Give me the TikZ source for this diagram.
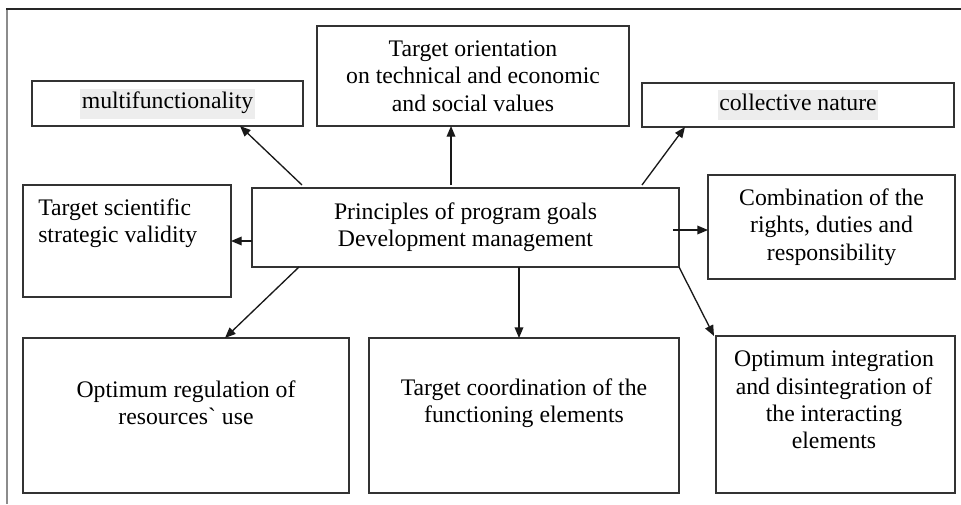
\documentclass[tikz,border=0pt]{standalone}
\usepackage{fontspec}
\setmainfont{Liberation Serif}
\usetikzlibrary{arrows.meta,calc}
\definecolor{hlgray}{gray}{0.93}
\newcommand\hlbox[1]{{\setlength\fboxsep{1pt}\colorbox{hlgray}{\strut #1}}}
\begin{document}
\begin{tikzpicture}[x=0.75pt,y=-0.75pt,
  box/.style 2 args={draw=black!80,line width=1.2pt,outer sep=0pt,inner sep=0pt,
    minimum width=#1*0.75pt,minimum height=#2*0.75pt,align=center,
    font=\fontsize{17.8pt}{20.5pt}\selectfont},
  txt/.style={inner sep=0pt,font=\fontsize{17.8pt}{20.5pt}\selectfont},
  arr/.style={line width=1pt,draw=black!90,-{Triangle[length=8pt,width=6.5pt]}}]
\useasboundingbox (0,0) rectangle (961,504);
% frame
\draw[black!45,line width=1.4pt] (7,9) -- (7,504);
\draw[black!85,line width=1.2pt] (6.3,9) -- (961,9);
% boxes
\node[box={271}{45}] (mf) at (167.5,103.5) {\hlbox{multifunctionality}};
\node[box={312}{100}] (to) at (473,76) {Target orientation\\on technical and economic\\and social values};
\node[box={312}{44}] (cn) at (798,105) {\hlbox{collective nature}};
\node[box={208}{112}] (ts) at (127,241) {};
\node[txt,align=left,anchor=west] (tst) at (38,223) {Target scientific\\strategic validity};
\node[box={427}{79}] (pr) at (465.5,227.5) {Principles of program goals\\Development management};
\node[box={247}{104}] (cb) at (831.5,227) {Combination of the\\rights, duties and\\responsibility};
\node[box={326}{155}] (or) at (186,415.5) {};
\node[txt,align=center] (ort) at (186,403) {Optimum regulation of\\resources\textasciigrave{} use};
\node[box={310}{155}] (tc) at (524,415.5) {};
\node[txt,align=center] (tct) at (524,403) {Target coordination of the\\functioning elements};
\node[box={239}{157}] (oi) at (835.5,414.5) {};
\node[txt,align=center] (oit) at (834,400) {Optimum integration\\and disintegration of\\the interacting\\elements};
% arrows
\draw[arr] ($(pr.north west)+(50,-3)$) -- ($(mf.south west)+(208,0)$);
\draw[arr] ($(pr.north west)+(199,-3)$) coordinate (a) -- (a |- to.south);
\draw[arr] ($(pr.north west)+(390,-3)$) -- ($(cn.south west)+(43,0)$);
\draw[arr] ($(pr.west)+(0,13.5)$) coordinate (b) -- (b -| ts.east);
\draw[arr] ($(pr.east)+(-6,2.5)$) coordinate (c) -- (c -| cb.west);
\draw[arr] ($(pr.south west)+(47,0)$) -- ($(or.north west)+(202,0)$);
\draw[arr] ($(pr.south west)+(267,0)$) coordinate (d) -- (d |- tc.north);
\draw[arr] (pr.south east) -- ($(oi.north west)+(-2,0)$);
\end{tikzpicture}
\end{document}
